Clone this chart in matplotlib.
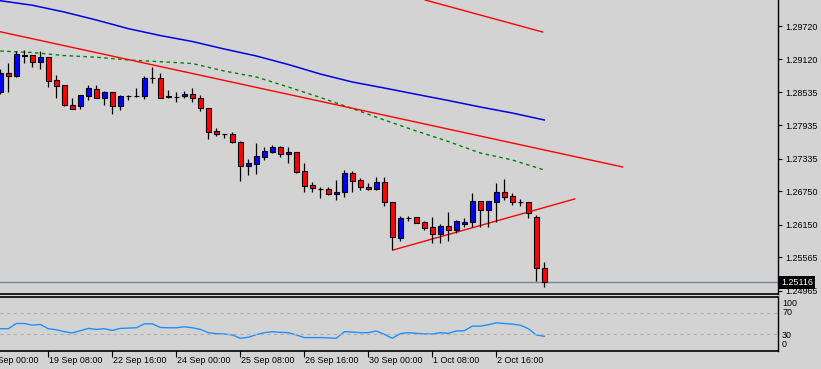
import numpy as np
import matplotlib
matplotlib.use("Agg")
import matplotlib.pyplot as plt
import matplotlib.transforms as mtransforms

plt.rcParams['font.family'] = ['Liberation Sans', 'DejaVu Sans']
FS = 6.4

# H4 candles, oldest first
opens = [1.28541, 1.28876, 1.28828, 1.29208, 1.29199, 1.29079, 1.29158, 1.28745, 1.28661, 1.28307,
         1.28289, 1.28469, 1.28584, 1.28433, 1.28530, 1.28289, 1.28470, 1.28469, 1.28469, 1.28781,
         1.28781, 1.28458, 1.28451, 1.28458, 1.28499, 1.28422, 1.28243, 1.27835, 1.27781, 1.27781,
         1.27638, 1.27212, 1.27248, 1.27374, 1.27464, 1.27553, 1.27417, 1.27453, 1.27112, 1.26866,
         1.26789, 1.26789, 1.26699, 1.26735, 1.27076, 1.26950, 1.26830, 1.26800, 1.26914, 1.26555,
         1.25920, 1.26279, 1.26286, 1.26196, 1.26107, 1.25981, 1.26125, 1.26064, 1.26161, 1.26196,
         1.26573, 1.26423, 1.26566, 1.26735, 1.26663, 1.26561, 1.26555, 1.26286, 1.25371]
highs = [1.28948, 1.29061, 1.29271, 1.29289, 1.29205, 1.29271, 1.29164, 1.28840, 1.28665, 1.28422,
         1.28480, 1.28661, 1.28661, 1.28553, 1.28535, 1.28476, 1.28476, 1.28607, 1.28823, 1.28989,
         1.28871, 1.28571, 1.28530, 1.28548, 1.28602, 1.28481, 1.28248, 1.27884, 1.27785, 1.27812,
         1.27656, 1.27333, 1.27615, 1.27543, 1.27584, 1.27558, 1.27543, 1.27458, 1.27261, 1.26914,
         1.26835, 1.26835, 1.26956, 1.27135, 1.27117, 1.26986, 1.26897, 1.27004, 1.27004, 1.26561,
         1.26310, 1.26315, 1.26292, 1.26220, 1.26286, 1.26161, 1.26376, 1.26238, 1.26268, 1.26717,
         1.26579, 1.26579, 1.26897, 1.26974, 1.26717, 1.26609, 1.26561, 1.26327, 1.25484]
lows = [1.28499, 1.28541, 1.28810, 1.29061, 1.28989, 1.28943, 1.28630, 1.28433, 1.28289, 1.28230,
        1.28236, 1.28392, 1.28428, 1.28302, 1.28146, 1.28212, 1.28392, 1.28451, 1.28404, 1.28702,
        1.28422, 1.28436, 1.28361, 1.28433, 1.28361, 1.28200, 1.27692, 1.27746, 1.27715, 1.27615,
        1.26943, 1.27045, 1.27063, 1.27315, 1.27435, 1.27374, 1.27256, 1.27076, 1.26746, 1.26746,
        1.26638, 1.26695, 1.26597, 1.26656, 1.26746, 1.26776, 1.26776, 1.26776, 1.26489, 1.25699,
        1.25861, 1.26220, 1.26178, 1.26058, 1.25830, 1.25820, 1.25866, 1.25999, 1.26117, 1.26117,
        1.26117, 1.26117, 1.26207, 1.26597, 1.26507, 1.26494, 1.26279, 1.25148, 1.25040]
closes = [1.28871, 1.28828, 1.29217, 1.29190, 1.29079, 1.29158, 1.28738, 1.28648, 1.28307, 1.28236,
          1.28476, 1.28602, 1.28433, 1.28530, 1.28289, 1.28458, 1.28458, 1.28466, 1.28781, 1.28778,
          1.28433, 1.28440, 1.28448, 1.28499, 1.28422, 1.28243, 1.27823, 1.27781, 1.27778, 1.27632,
          1.27212, 1.27261, 1.27381, 1.27476, 1.27543, 1.27417, 1.27453, 1.27105, 1.26853, 1.26807,
          1.26786, 1.26699, 1.26740, 1.27076, 1.26943, 1.26835, 1.26800, 1.26914, 1.26566, 1.25938,
          1.26268, 1.26276, 1.26189, 1.26100, 1.25981, 1.26125, 1.26064, 1.26220, 1.26202, 1.26573,
          1.26423, 1.26573, 1.26735, 1.26656, 1.26566, 1.26558, 1.26369, 1.25371, 1.25116]

# RSI per candle
rsi = [40.5, 40.5, 50.3, 50.3, 47.2, 48.5, 40.5, 38.6, 35.0, 32.5,
       36.8, 41.1, 39.3, 40.5, 37.4, 41.1, 41.7, 42.3, 49.7, 49.7,
       42.9, 42.3, 42.3, 44.2, 42.3, 39.3, 33.1, 31.3, 30.6, 28.8,
       22.6, 24.5, 29.4, 33.1, 34.9, 33.7, 33.1, 28.8, 23.9, 23.9,
       23.9, 23.3, 22.6, 34.9, 34.3, 33.1, 33.1, 36.2, 30.0, 22.6,
       31.3, 33.1, 31.9, 30.6, 30.6, 33.1, 31.9, 36.2, 36.8, 45.4,
       45.4, 47.9, 51.6, 50.3, 49.1, 47.2, 40.5, 28.8, 26.3]

# moving averages, read every 4th candle
ma_idx = [0, 4, 8, 12, 16, 20, 24, 28, 32, 36, 40, 44, 48, 52, 56, 60, 64, 68]
ma_slow = [1.30174, 1.30093, 1.29971, 1.29828, 1.29673, 1.29549, 1.29442, 1.29307, 1.29182,
           1.29029, 1.28858, 1.28715, 1.28607, 1.28494, 1.28383, 1.28266, 1.28158, 1.28033]
ma_fast = [1.29271, 1.29244, 1.29190, 1.29160, 1.29110, 1.29079, 1.29047, 1.28912, 1.28805,
           1.28625, 1.28437, 1.28239, 1.28033, 1.27835, 1.27647, 1.27440, 1.27315, 1.27135]

# trend lines (candle index, price)
trend_lines = [
    ((-0.04, 1.29618), (77.8, 1.27189)),
    ((53.1, 1.30187), (67.8, 1.29612)),
    ((49.1, 1.25699), (71.8, 1.26615)),
]

price_ticks = [1.29720, 1.29120, 1.28535, 1.27935, 1.27335, 1.26750, 1.26150, 1.25565, 1.24965]
last_price = 1.25116

time_tick_idx = [-2, 6, 14, 22, 30, 38, 46, 54, 62]
time_labels = ['18 Sep 00:00', '19 Sep 08:00', '22 Sep 16:00', '24 Sep 00:00', '25 Sep 08:00',
               '26 Sep 16:00', '30 Sep 00:00', '1 Oct 08:00', '2 Oct 16:00']

bg = '#d3d3d3'
W, H = 821, 369
fig = plt.figure(figsize=(W / 100, H / 100), dpi=100, facecolor=bg)
ax = fig.add_axes([0, 1 - 294 / H, 778 / W, 294 / H], facecolor=bg)
ax2 = fig.add_axes([0, 1 - 351 / H, 778 / W, (351 - 296.5) / H], facecolor=bg)

x = np.arange(len(opens))
o = np.array(opens); c = np.array(closes)
up = c > o
cols = np.where(up, '#0000ff', '#ff0000')

ax.vlines(x, lows, highs, color='black', lw=0.9, zorder=2)
ax.bar(x, c - o, bottom=o, width=0.62, color=cols, edgecolor='black', linewidth=0.8, zorder=3)

ax.plot(ma_idx, ma_slow, color='#0000e0', lw=1.1, zorder=1)
ax.plot(ma_idx, ma_fast, color='#008000', lw=1.0, ls=(0, (2.5, 2.5)), zorder=1)
for (x0, y0), (x1, y1) in trend_lines:
    ax.plot([x0, x1], [y0, y1], color='#ff0000', lw=1.0, zorder=1)

ax.axhline(last_price, color='#778899', lw=1.0, zorder=1)

ax.set_xlim(-0.0375, 97.21)
ax.set_ylim(1.24909, 1.30187)
ax.set_xticks([])
ax.set_yticks(price_ticks)
ax.set_yticklabels(['%.5f' % p for p in price_ticks])
ax.yaxis.tick_right()
ax.tick_params(axis='y', length=3, width=0.8, pad=2.5, labelsize=FS, colors='black')
for s in ['left', 'top']:
    ax.spines[s].set_visible(False)
ax.spines['right'].set_linewidth(1)
ax.spines['bottom'].set_linewidth(1.2)

ax.annotate('%.5f' % last_price, xy=(1, last_price), xycoords=('axes fraction', 'data'),
            xytext=(2.2, 0), textcoords='offset points', ha='left', va='center',
            fontsize=FS, color='white', zorder=10, annotation_clip=False,
            bbox=dict(boxstyle='square,pad=0.2', facecolor='black', edgecolor='none'))

# RSI panel
ax2.plot(x, rsi, color='#1e90ff', lw=1.0)
for lvl in (70, 30):
    ax2.axhline(lvl, color='#b0b0b0', lw=0.8, ls=(0, (3, 3)))
ax2.set_xlim(-0.0375, 97.21)
ax2.set_ylim(-1.3, 101)
ax2.set_yticks([])
ax2.spines['left'].set_visible(False)
for s in ['top', 'bottom', 'right']:
    ax2.spines[s].set_linewidth(1.2 if s != 'right' else 1)

trans = mtransforms.blended_transform_factory(ax2.transAxes, fig.transFigure)
for lab, ypx in [('100', 303), ('70', 312.5), ('30', 335), ('0', 344.5)]:
    ax2.text(1 + 4 / 778, 1 - ypx / H, lab, transform=trans, ha='left', va='center',
             fontsize=FS, clip_on=False)

ax2.set_xticks(time_tick_idx[1:])
ax2.set_xticklabels([])
ax2.tick_params(axis='x', length=4, width=0.8, colors='black')
xtrans = mtransforms.blended_transform_factory(ax2.transData, fig.transFigure)
for xi, lab in zip(time_tick_idx, time_labels):
    ax2.text(xi + 0.1, 1 - 360.5 / H, lab, transform=xtrans, ha='left', va='center',
             fontsize=FS, clip_on=False)

fig.savefig('out.png', dpi=100, facecolor=bg)
